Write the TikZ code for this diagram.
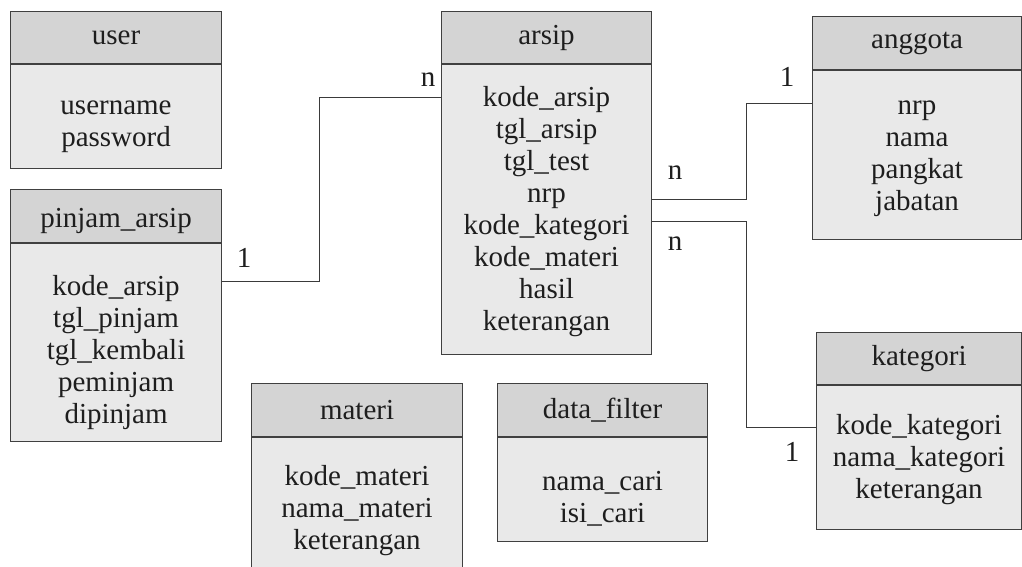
\documentclass[tikz,border=0pt]{standalone}
\usepackage{fontspec}
\setmainfont{Liberation Serif}
\definecolor{hdrfill}{HTML}{D4D4D4}
\definecolor{bdyfill}{HTML}{E9E9E9}
\definecolor{edge}{HTML}{404040}
\definecolor{wire}{HTML}{3A3A3A}
\definecolor{txt}{HTML}{1E1E1E}
% \lead{h}: raises the first line of an attribute list to height h
\newcommand{\lead}[1]{\rule{0pt}{#1}}
\begin{document}
\begin{tikzpicture}[x=1pt,y=-1pt,
  every node/.style={font=\fontsize{29}{32}\selectfont, text=txt},
  hdr/.style={draw=edge, fill=hdrfill, line width=1.1pt, anchor=north west,
              inner sep=0pt, minimum height=52pt},
  bdy/.style={draw=edge, fill=bdyfill, line width=1.1pt, anchor=north,
              inner sep=0pt, align=center},
  link/.style={draw=wire, line width=1pt},
  card/.style={inner sep=0pt}]
\useasboundingbox (0,0) rectangle (1022,567);
\clip (0,0) rectangle (1022,567);

% user
\node[hdr, minimum width=211pt] (uh) at (10,11) {user};
\node[bdy, minimum width=211pt, minimum height=104pt] (ub) at (uh.south)
  {\lead{33pt}username\\password};

% pinjam_arsip
\node[hdr, minimum width=211pt, minimum height=53pt] (ph) at (10,189) {\lead{30pt}pinjam\_arsip};
\node[bdy, minimum width=211pt, minimum height=198pt] (pb) at (ph.south)
  {\lead{40pt}kode\_arsip\\tgl\_pinjam\\tgl\_kembali\\peminjam\\dipinjam};

% arsip
\node[hdr, minimum width=210pt] (ah) at (441,11) {arsip};
\node[bdy, minimum width=210pt, minimum height=290pt] (ab) at (ah.south)
  {\lead{24pt}kode\_arsip\\tgl\_arsip\\tgl\_test\\nrp\\kode\_kategori\\kode\_materi\\hasil\\keterangan};

% anggota
\node[hdr, minimum width=209pt, minimum height=53pt] (gh) at (812,16) {anggota};
\node[bdy, minimum width=209pt, minimum height=169pt] (gb) at (gh.south)
  {\lead{21pt}nrp\\nama\\pangkat\\jabatan};

% kategori
\node[hdr, minimum width=205pt] (kh) at (816,332) {kategori};
\node[bdy, minimum width=205pt, minimum height=144pt] (kb) at (kh.south)
  {\lead{24pt}kode\_kategori\\nama\_kategori\\keterangan};

% materi (runs past the lower edge)
\node[hdr, minimum width=211pt, minimum height=53pt] (mh) at (251,383) {materi};
\node[bdy, minimum width=211pt, minimum height=145pt] (mb) at (mh.south)
  {kode\_materi\\nama\_materi\\keterangan};

% data_filter
\node[hdr, minimum width=210pt, minimum height=53pt] (dh) at (497,383) {data\_filter};
\node[bdy, minimum width=210pt, minimum height=104pt] (db) at (dh.south)
  {\lead{38pt}nama\_cari\\isi\_cari};

% relationships
\draw[link] ([yshift=-38pt]pb.north east) -- ++(97,0) |- ([yshift=-33pt]ab.north west);
\draw[link] ([yshift=-135pt]ab.north east) -- ++(94,0) |- ([yshift=-33pt]gb.north west);
\draw[link] ([yshift=-157pt]ab.north east) -- ++(94,0) |- ([yshift=-42pt]kb.north west);

% cardinalities
\node[card] (c1) at (428,80) {n};
\node[card] (c2) at (244,258) {1};
\node[card] (c3) at (675,173) {n};
\node[card] (c4) at (675,244) {n};
\node[card] (c5) at (787,77) {1};
\node[card] (c6) at (792,452) {1};
\end{tikzpicture}
\end{document}
